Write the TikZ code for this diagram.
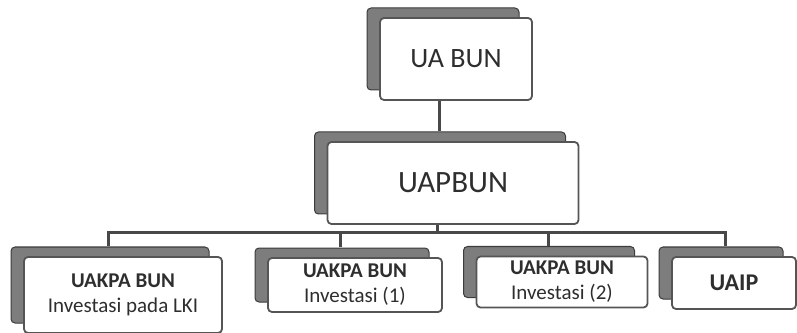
\documentclass[tikz,border=0pt]{standalone}
\usepackage{fontspec}
\setmainfont{Carlito}
\usetikzlibrary{shadows}
\definecolor{boxline}{HTML}{555555}
\definecolor{shade}{HTML}{7D7D7D}
\definecolor{txt}{HTML}{2E2E2E}
\begin{document}
\begin{tikzpicture}[x=1pt, y=1pt,
  unit/.style={draw=boxline, line width=1.8pt, fill=white, rounded corners=4pt,
    align=center, inner sep=0pt, text=txt,
    copy shadow={shadow xshift=-13pt, shadow yshift=10pt, fill=shade, draw=boxline!70!black, line width=1pt}},
  small/.style={font=\fontsize{21}{25}\selectfont},
  link/.style={draw=boxline!85!black, line width=3pt}]
\useasboundingbox (0,0) rectangle (797,332);
% top levels
\node[unit, minimum width=152pt, minimum height=82pt, font=\fontsize{28}{32}\selectfont] (uabun) at (456,273) {UA BUN};
\node[unit, minimum width=251pt, minimum height=82pt, font=\fontsize{31}{36}\selectfont] (uapbun) at (453,149) {UAPBUN};
% units below
\node[unit, small, minimum width=198pt, minimum height=76pt] (lki) at (123,37) {\textbf{UAKPA BUN}\\Investasi pada LKI};
\node[unit, small, minimum width=174pt, minimum height=54pt] (inv1) at (355,47) {\textbf{UAKPA BUN}\\Investasi (1)};
\node[unit, small, minimum width=171pt, minimum height=51pt] (inv2) at (562,50) {\textbf{UAKPA BUN}\\Investasi (2)};
\node[unit, minimum width=124pt, minimum height=52pt, font=\bfseries\fontsize{24}{28}\selectfont] (uaip) at (734,49) {UAIP};
\draw[link] ([xshift=-17pt]uabun.south) -- ([xshift=-14pt,yshift=10pt]uapbun.north);
\draw[link] ([xshift=-16pt]uapbun.south) -- ++(0,-8) coordinate (bus);
\draw[link] (bus) -| ([xshift=-15pt,yshift=10pt]lki.north);
\draw[link] (bus) -| ([xshift=-15pt,yshift=10pt]inv1.north);
\draw[link] (bus) -| ([xshift=-14pt,yshift=10pt]inv2.north);
\draw[link] (bus) -| ([xshift=-9pt,yshift=10pt]uaip.north);
\end{tikzpicture}
\end{document}
